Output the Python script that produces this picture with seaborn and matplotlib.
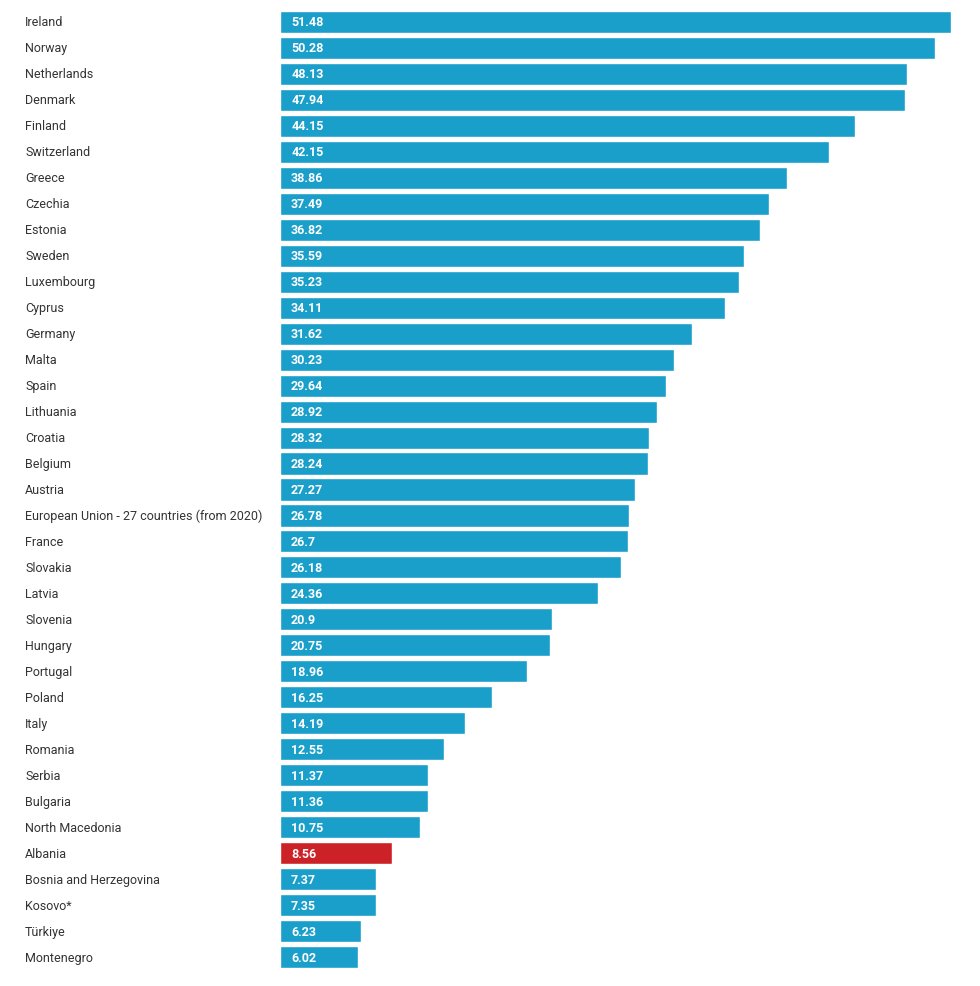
import matplotlib
matplotlib.use("Agg")
import matplotlib.pyplot as plt
import matplotlib.transforms as mtransforms
import seaborn as sns
import pandas as pd

countries = ["Ireland", "Norway", "Netherlands", "Denmark", "Finland", "Switzerland",
             "Greece", "Czechia", "Estonia", "Sweden", "Luxembourg", "Cyprus", "Germany",
             "Malta", "Spain", "Lithuania", "Croatia", "Belgium", "Austria",
             "European Union - 27 countries (from 2020)", "France", "Slovakia", "Latvia",
             "Slovenia", "Hungary", "Portugal", "Poland", "Italy", "Romania", "Serbia",
             "Bulgaria", "North Macedonia", "Albania", "Bosnia and Herzegovina", "Kosovo*",
             "Türkiye", "Montenegro"]
values = [51.48, 50.28, 48.13, 47.94, 44.15, 42.15, 38.86, 37.49, 36.82, 35.59, 35.23,
          34.11, 31.62, 30.23, 29.64, 28.92, 28.32, 28.24, 27.27, 26.78, 26.7, 26.18,
          24.36, 20.9, 20.75, 18.96, 16.25, 14.19, 12.55, 11.37, 11.36, 10.75, 8.56,
          7.37, 7.35, 6.23, 6.02]
labels = ["51.48", "50.28", "48.13", "47.94", "44.15", "42.15", "38.86", "37.49", "36.82",
          "35.59", "35.23", "34.11", "31.62", "30.23", "29.64", "28.92", "28.32", "28.24",
          "27.27", "26.78", "26.7", "26.18", "24.36", "20.9", "20.75", "18.96", "16.25",
          "14.19", "12.55", "11.37", "11.36", "10.75", "8.56", "7.37", "7.35", "6.23", "6.02"]
highlight = "Albania"

df = pd.DataFrame({"country": countries, "value": values})
palette = {c: ("#cc2127" if c == highlight else "#1a9fcb") for c in countries}

sns.set_style("white")
fig = plt.figure(figsize=(9.8, 9.87), dpi=100)
ax = fig.add_axes([280 / 980, 16 / 987, 671 / 980, 961 / 987])
sns.barplot(data=df, x="value", y="country", hue="country", palette=palette,
            dodge=False, legend=False, width=0.85, saturation=1, ax=ax)
ax.set_xlim(0, max(values))
ax.set_ylim(len(countries) - 0.5, -0.5)
ax.set_xlabel("")
ax.set_ylabel("")
ax.set_xticks([])
ax.set_yticks([])
for s in ax.spines.values():
    s.set_visible(False)

trans = mtransforms.blended_transform_factory(fig.transFigure, ax.transData)
for i, (c, v) in enumerate(zip(countries, labels)):
    ax.text(25 / 980, i, c, transform=trans, ha="left", va="center",
            fontsize=9, color="#333333", family="Roboto")
    ax.annotate(v, (0, i), xytext=(8, 0), textcoords="offset points", ha="left",
                va="center", fontsize=9, color="white", fontweight="bold", family="Roboto")

fig.savefig("out.png", dpi=100)
